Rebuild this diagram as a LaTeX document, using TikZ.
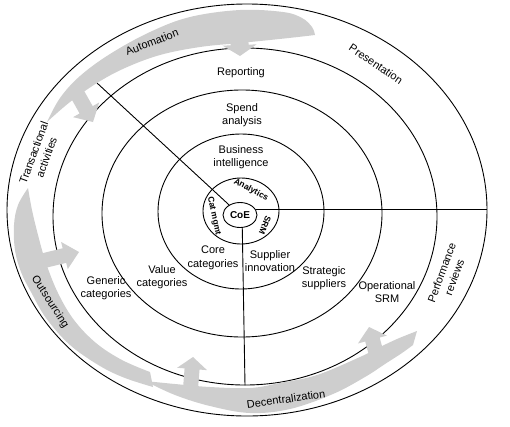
\documentclass[tikz,border=0pt]{standalone}
\usepackage{fontspec}
\setmainfont{Liberation Sans}
\usetikzlibrary{shapes.geometric,calc}
\definecolor{swgray}{RGB}{206,206,206}
\newcommand{\garrow}[5]{%
  \coordinate (ga-b) at ($(#2)!#5!(#1)$);
  \fill[swoosh] ($(#1)!#3!90:(#2)$) -- ($(ga-b)!#3!90:(#2)$) -- ($(ga-b)!#4!90:(#2)$) -- (#2)
    -- ($(ga-b)!#4!-90:(#2)$) -- ($(ga-b)!#3!-90:(#2)$) -- ($(#1)!#3!-90:(#2)$) -- cycle;}
\begin{document}
\begin{tikzpicture}[x=1pt,y=-1pt,
  ring/.style={draw, ellipse, inner sep=0pt, line width=0.9pt},
  link/.style={draw, line width=0.9pt},
  lbl/.style={font=\fontsize{11}{13.5}\selectfont, align=center, inner sep=0pt},
  blbl/.style={font=\bfseries\fontsize{8.5}{10}\selectfont, inner sep=0pt},
  swoosh/.style={fill=swgray}]
\useasboundingbox (0,0) rectangle (510,426);

% rings
\node[ring, minimum width=384pt, minimum height=337pt] (ringA) at (245,216.5) {};
\node[ring, minimum width=280pt, minimum height=247pt] (ringB) at (242,213.5) {};
\node[ring, minimum width=166pt, minimum height=155pt] (ringC) at (241,211.5) {};
\node[ring, minimum width=76pt, minimum height=66pt] (ringD) at (241,211) {};
\node[ring, minimum width=34pt, minimum height=25pt, font=\bfseries\fontsize{10}{12}\selectfont] (coe) at (240,215) {CoE};

% connectors
\coordinate (diagEnd) at (97,83);
\draw[link] (diagEnd) -- (coe);
\draw[link] (coe.-80) -- (ringA.south);

% swooshes
\fill[swoosh] plot[smooth, tension=0.6] coordinates {(47,122) (60,98) (80,76) (110,54) (150,32) (190,17) (240,10) (283,12) (302,18) (312,27) (315,35)}
  -- plot[smooth, tension=0.6] coordinates {(315,35) (298,37) (270,40) (240,43) (200,47) (160,55) (125,68) (97,83) (70,102) (47,122)} -- cycle;
\fill[swoosh] plot[smooth, tension=0.6] coordinates {(28,188) (18,205) (14,225) (15,250) (21,272) (31,292) (46,318) (70,345) (100,366) (125,378) (153,387)}
  -- plot[smooth, tension=0.6] coordinates {(150,372) (122,360) (96,343) (74,320) (58,293) (46,263) (38,235) (32,210) (28,188)} -- cycle;
\fill[swoosh] plot[smooth, tension=0.6] coordinates {(145,381) (175,395) (210,406) (250,413) (290,409) (333,394) (365,377) (385,364) (402,353) (413,345)}
  -- plot[smooth, tension=0.6] coordinates {(417,331) (397,339) (378,348) (360,357) (317,375) (280,383) (250,388) (210,387) (175,384) (145,381)} -- cycle;

% block arrows
\garrow{75,90}{93,122}{7.5pt}{15pt}{14pt}
\garrow{239,30}{240,56}{9pt}{17pt}{11pt}
\garrow{38,262}{79,252}{7.5pt}{14pt}{15pt}
\garrow{190,395}{193,357}{7.5pt}{15pt}{12pt}
\garrow{378,360}{369,327}{7.5pt}{15pt}{13pt}

% outer ring and horizontal connector
\node[ring, minimum width=480pt, minimum height=412pt] (outer) at (247,210) {};
\draw[link] (coe.20) -- (coe.20 -| outer.east);

% labels
\node[lbl] (reporting) at (241,73) {Reporting};
\node[lbl] (spend) at (242,115) {Spend\\analysis};
\node[lbl] (bi) at (241,157) {Business\\intelligence};
\node[lbl] (core) at (213,258) {Core\\categories};
\node[lbl] (suppinn) at (270,261) {Supplier\\innovation};
\node[lbl] (value) at (162,277) {Value\\categories};
\node[lbl] (generic) at (106,288) {Generic\\categories};
\node[lbl] (strat) at (324,278) {Strategic\\suppliers};
\node[lbl] (opsrm) at (387,292) {Operational\\SRM};
\node[lbl, rotate=70] (perf) at (448,275) {Performance\\reviews};
\node[lbl, rotate=70] (trans) at (40,155) {Transactional\\activities};
\node[lbl, rotate=21] (auto) at (152,42) {Automation};
\node[lbl, rotate=-34] (pres) at (376,64) {Presentation};
\node[lbl, rotate=-57] (outs) at (50,302) {Outsourcing};
\node[lbl, rotate=8] (decent) at (286,399) {Decentralization};
\node[blbl, rotate=-28] (analytics) at (251,190) {Analytics};
\node[blbl, rotate=-78] (catm) at (214,216) {Cat mgmt};
\node[blbl, rotate=-112] (srm) at (265,225) {SRM};
\end{tikzpicture}
\end{document}
